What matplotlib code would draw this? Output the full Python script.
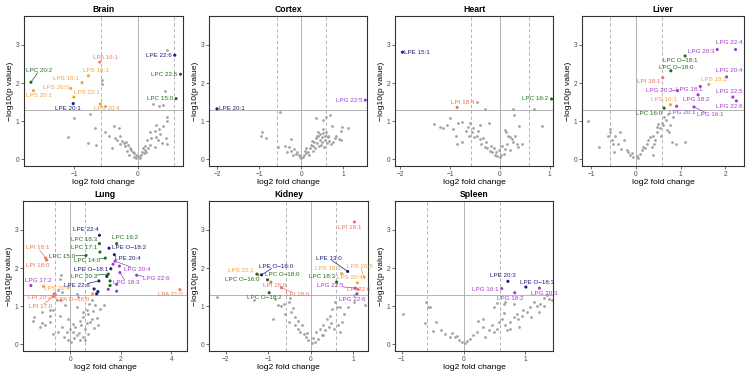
import numpy as np
import matplotlib
matplotlib.use("Agg")
import matplotlib.pyplot as plt

plt.rcParams['font.family'] = ['Liberation Sans', 'DejaVu Sans']

# ---------------- DATA ----------------
panels = ["Brain", "Cortex", "Heart", "Liver", "Lung", "Kidney", "Spleen"]

brain_gray_x = [0.47,-0.56,-0.56,0.43,0.34,0.40,0.25,-0.75,-1.01,-0.51,-0.37,-0.68,-0.51,-1.11,-0.79,-0.66,-0.30,-0.28,0.47,0.47,0.29,0.34,0.40,0.27,0.19,0.29,0.45,0.32,0.47,0.27,0.15,0.11,-0.35,-0.32,-0.25,-0.22,-0.18,-0.28,-0.20,-0.15,-0.12,-0.10,-0.08,-0.05,-0.03,0.00,0.02,0.05,0.07,0.10,0.13,0.08,-0.06,-0.02,0.04,-0.13,-0.17,0.16,0.20,0.12,-0.40,-0.45,0.35,0.22,0.38]
brain_gray_y = [2.88,2.09,1.98,1.79,1.40,1.43,1.46,1.19,1.07,1.39,0.86,0.82,0.71,0.58,0.42,0.38,0.82,0.60,1.10,1.00,0.89,0.80,0.86,0.75,0.71,0.58,0.56,0.49,0.39,0.32,0.51,0.23,0.55,0.50,0.48,0.42,0.45,0.40,0.35,0.38,0.30,0.25,0.20,0.15,0.10,0.08,0.05,0.12,0.18,0.15,0.20,0.28,0.06,0.03,0.02,0.12,0.22,0.28,0.38,0.35,0.28,0.60,0.65,0.55,0.42]
brain_hl_names = ["LPC 20:2","LPS 20:1","LPS 20:0","LPS 18:1","LPS 16:1","LPA 16:1","LPS 22:1","LPE 20:1","LPS 20:4","LPE 22:6","LPC 22:6","LPC 15:0"]
brain_hl_x = [-1.69,-1.65,-1.06,-0.88,-0.78,-0.60,-1.01,-1.02,-0.59,0.59,0.68,0.61]
brain_hl_y = [2.02,1.80,1.86,2.01,2.19,2.55,1.63,1.46,1.45,2.73,2.23,1.59]

cortex_gray_x = [-0.51,-0.94,-0.96,-0.84,-0.55,-0.40,-0.26,-0.29,-0.25,-0.17,-0.13,-0.07,-0.03,0.00,0.03,0.06,0.10,0.15,0.12,0.20,0.22,0.28,0.30,0.25,0.35,0.58,0.67,0.52,0.72,0.52,0.51,0.96,0.94,1.11,0.90,0.93,0.79,0.64,0.70,0.35,0.40,0.45,0.38,0.42,0.48,0.55,0.60,0.33,0.45,0.58,0.62,0.40,0.47,0.53,0.66,0.75,0.82,0.18,-0.10,-0.20,-0.35,0.08,0.27,0.36,0.50,0.57]
cortex_gray_y = [1.23,0.71,0.60,0.56,0.32,0.34,0.53,0.32,0.21,0.27,0.14,0.10,0.05,0.02,0.06,0.10,0.15,0.20,0.28,0.30,0.38,0.35,0.45,0.48,1.09,1.11,1.16,1.04,0.86,0.80,0.68,0.84,0.75,0.81,0.54,0.51,0.55,0.58,0.40,0.55,0.60,0.50,0.42,0.35,0.45,0.50,0.42,0.30,0.65,0.70,0.62,0.72,0.38,0.33,0.48,0.45,0.62,0.12,0.18,0.12,0.20,0.22,0.22,0.62,0.58,0.60]
cortex_hl_names = ["LPE 20:1","LPG 22:5"]
cortex_hl_x = [-2.01,1.52]
cortex_hl_y = [1.32,1.55]

heart_gray_x = [-0.46,-0.30,0.27,0.28,0.68,0.85,-1.00,0.39,-1.32,-1.21,-1.15,-1.07,-0.85,-0.77,-0.60,-0.40,-0.21,-0.89,-0.86,-0.76,-0.69,-0.57,-0.52,-0.62,-0.43,-0.40,-0.37,-0.30,-0.25,-0.20,-0.15,-0.10,-0.05,0.00,0.03,-0.08,-0.12,-0.18,-0.28,-0.33,-0.45,-0.55,-0.65,-0.95,0.10,0.13,0.17,0.20,0.25,0.05,0.10,0.20,0.27,0.34,0.44,0.37,0.09,-0.02,0.15,0.30]
heart_gray_y = [1.51,1.33,1.31,1.17,1.31,0.86,1.08,0.86,0.93,0.84,0.82,0.91,0.95,0.97,0.96,0.90,0.96,0.62,0.39,0.45,0.75,0.71,0.58,0.60,0.75,0.54,0.40,0.32,0.28,0.22,0.18,0.12,0.08,0.05,0.10,0.20,0.30,0.35,0.45,0.55,0.62,0.82,0.85,0.78,0.77,0.71,0.62,0.58,0.52,0.35,0.27,0.23,0.45,0.40,0.40,0.32,0.14,0.25,0.40,0.60]
heart_hl_names = ["LPE 15:1","LPI 18:4","LPC 16:2"]
heart_hl_x = [-1.96,-0.86,1.04]
heart_hl_y = [2.81,1.36,1.58]

liver_gray_x = [-1.07,-0.58,-0.58,-0.63,-0.47,-0.36,-0.54,-0.51,-0.40,-0.28,-0.34,-0.82,-0.49,-0.21,-0.13,-0.06,0.03,0.09,0.13,0.16,0.24,0.28,0.31,0.39,0.43,0.35,0.46,0.50,0.54,0.56,0.61,0.67,0.69,0.75,0.80,0.90,1.10,0.63,0.82,0.76,0.37,0.72,-0.10,0.05,0.20,-0.17,0.40,0.48,0.58]
liver_gray_y = [1.00,0.80,0.72,0.62,0.62,0.71,0.49,0.39,0.40,0.49,0.27,0.32,0.18,0.23,0.10,0.05,0.07,0.14,0.23,0.32,0.40,0.49,0.58,0.62,0.49,0.32,0.84,0.93,0.82,0.62,0.89,1.02,0.77,0.71,0.45,0.40,0.46,1.11,1.11,0.91,0.10,1.19,0.15,0.03,0.30,0.18,0.40,0.72,0.95]
liver_hl_names = ["LPG 22:4","LPG 20:3","LPC O\u221218:1","LPC O\u221218:0","LPG 20:4","LPI 18:1","LPS 18:2","LPG 20:2","LPG 18:1","LPG 22:5","LPG 18:2","LPS 16:1","LPG 22:6","LPC 16:0","LPG 20:1","LPG 16:1"]
liver_hl_x = [2.23,1.82,1.10,0.78,2.03,0.60,1.63,0.93,1.44,2.17,1.39,0.77,2.25,0.63,0.91,1.30]
liver_hl_y = [2.88,2.88,2.71,2.32,2.16,2.14,1.96,1.80,1.91,1.63,1.69,1.43,1.53,1.34,1.39,1.37]

lung_gray_x = [-0.36,-0.40,-0.59,-0.66,0.26,0.30,-0.33,-0.20,0.26,0.68,0.53,0.71,0.92,0.39,0.79,1.05,1.09,0.59,0.53,0.26,0.13,-0.13,-0.33,-0.46,-0.66,-0.79,-0.99,-1.45,-1.09,-1.41,-1.12,-0.79,-0.39,-0.07,0.10,0.39,0.59,0.72,0.99,1.36,1.18,-0.53,-0.46,-0.07,0.00,0.20,0.45,0.35,0.15,0.05,-0.10,-0.25,0.65,0.85,0.95,0.50,-0.80,-1.20,0.75,0.85]
lung_gray_y = [1.82,1.72,1.32,0.91,1.32,1.23,1.38,1.04,0.97,0.91,0.71,0.80,0.87,0.62,0.58,0.68,0.49,0.39,0.18,0.23,0.33,0.32,0.45,0.32,0.27,0.58,0.50,0.60,0.56,0.71,0.84,0.91,0.75,0.67,0.54,0.10,0.10,0.27,1.02,1.02,0.93,1.15,1.41,1.54,0.40,0.45,0.50,0.30,0.15,0.05,0.10,0.20,0.55,0.65,0.42,0.85,0.75,0.45,1.05,1.15]
lung_hl_names = ["LPE 22:4","LPC 18:3","LPC 16:2","LPE O\u221218:2","LPC 17:1","LPI 18:1","LPC 15:0","LPC 14:0","LPE 20:4","LPI 18:0","LPE O\u221218:1","LPG 20:4","LPG 22:6","LPC 20:3","LPG 18:3","LPG 17:2","LPE 22:6","LPS 20:4","LPA 21:0","LPI 20:2","LPA O\u221216:0","LPI 17:0",
                 "LPC 18:1","LPC 20:1","LPG 16:0","LPG 18:2","LPS 18:0","LPE 18:0","LPE 18:1","LPG 20:3","LPG 22:5","LPG 16:1","LPE 16:0","LPE 20:3"]
lung_hl_x = [1.16,1.16,1.84,1.54,1.18,-0.96,0.63,1.39,1.75,-0.93,1.61,1.78,2.63,1.51,1.97,-1.55,1.14,-1.05,4.34,-0.63,-0.36,-0.66,
             1.58,1.58,1.51,1.84,0.89,1.05,1.10,1.84,1.70,1.95,0.95,1.45]
lung_hl_y = [2.86,2.64,2.64,2.52,2.42,2.26,2.33,2.26,2.35,2.21,1.98,2.18,1.81,1.84,1.88,1.54,1.66,1.52,1.43,1.32,1.15,1.25,
             1.66,1.54,1.44,1.39,1.32,1.32,1.38,1.57,2.10,2.05,1.45,1.78]

kidney_gray_x = [-2.22,-1.35,-0.84,-0.78,-0.88,-0.70,-0.62,-0.50,-0.51,-0.46,-0.37,-0.51,-0.37,-0.29,-0.21,-0.25,-0.17,-0.12,-0.06,0.02,0.10,0.18,0.26,0.22,0.30,0.34,0.42,0.38,0.46,0.50,0.57,0.61,0.69,0.89,1.01,1.01,1.28,0.65,0.73,0.69,0.55,-0.30,-0.08,0.05,0.13,0.48,0.78,-0.60,-0.42,0.30]
kidney_gray_y = [1.23,1.15,1.19,1.02,0.67,1.00,1.05,1.22,1.10,0.84,0.71,0.58,0.50,0.62,0.50,0.32,0.27,0.18,0.10,0.04,0.05,0.14,0.23,0.40,0.49,0.36,0.45,0.67,0.75,0.93,1.11,0.97,0.97,0.97,1.28,1.11,1.04,0.49,0.58,0.32,0.40,0.40,0.30,0.15,0.32,0.55,0.80,0.80,0.95,0.25]
kidney_hl_names = ["LPI 16:1","LPE 13:0","LPS 20:5","LPS 18:2","LPS 20:4","LPC 18:3","LPG 22:5","LPI 22:6","LPG 22:6","LPS 22:1","LPE O\u221218:0","LPC O\u221216:0","LPC O\u221218:0","LPI 16:0","LPI 18:0","LPC O\u221218:2"]
kidney_hl_x = [1.03,0.87,1.26,0.73,1.10,0.61,1.05,1.11,1.09,-1.24,-1.16,-1.27,-1.02,-0.94,-0.69,-0.98]
kidney_hl_y = [3.21,1.91,1.76,1.85,1.61,1.63,1.47,1.44,1.32,1.82,1.82,1.84,1.69,1.63,1.48,1.35]

spleen_gray_x = [-0.98,-0.61,-0.55,-0.58,-0.62,-0.44,-0.50,-0.37,-0.30,-0.22,-0.14,-0.08,-0.03,0.05,0.11,0.16,0.22,0.24,0.31,0.32,0.41,0.46,0.49,0.54,0.57,0.62,0.65,0.68,0.70,0.76,0.81,0.86,0.89,0.95,0.97,1.03,1.08,1.14,1.19,1.22,1.24,1.30,1.38,1.43,0.65,0.68,0.81,0.49,0.55,-0.18,-0.10,0.02,0.35,0.90,1.10,0.75,1.35,1.30]
spleen_gray_y = [0.79,1.11,0.98,0.97,0.56,0.58,0.34,0.38,0.27,0.18,0.18,0.10,0.05,0.07,0.14,0.25,0.32,0.62,0.67,0.45,0.36,0.49,0.32,0.40,0.58,0.67,0.82,0.51,0.36,0.58,0.71,0.80,0.66,0.75,0.91,0.84,0.97,1.11,1.00,0.84,1.06,1.00,1.19,1.15,1.06,1.10,1.06,0.97,1.09,0.28,0.22,0.02,0.20,0.45,0.70,0.40,1.28,1.20]
spleen_hl_names = ["LPE 20:3","LPE O\u221218:3","LPG 16:1","LPG 20:3","LPG 18:2"]
spleen_hl_x = [0.72,1.01,0.62,1.23,0.83]
spleen_hl_y = [1.65,1.50,1.46,1.47,1.35]

# labelled subset (names) per panel
labelled = {
    "Lung": lung_hl_names[:22],
}

# x ticks per panel
x_ticks = {
    "Brain": [-1, 0], "Cortex": [-2, -1, 0, 1], "Heart": [-2, -1, 0, 1],
    "Liver": [-1, 0, 1, 2], "Lung": [0, 2, 4], "Kidney": [-2, -1, 0, 1],
    "Spleen": [-1, 0, 1],
}
y_ticks = [0, 1, 2, 3]
p_cut = 1.3
fc_cut = 0.585

# ---------------- LAYOUT / STYLE ----------------
W, H = 755, 381
axes_px = {  # left, top, right, bottom in pixels
    "Brain": (24, 16, 183, 166), "Cortex": (209, 16, 367, 166),
    "Heart": (395, 16, 553, 166), "Liver": (582, 16, 744, 166),
    "Lung": (23, 201, 187, 351), "Kidney": (209, 201, 368, 351),
    "Spleen": (395, 201, 553, 351),
}
xlims = {
    "Brain": (-1.80, 0.72), "Cortex": (-2.20, 1.56), "Heart": (-2.11, 1.07),
    "Liver": (-1.21, 2.42), "Lung": (-1.86, 4.62), "Kidney": (-2.40, 1.35),
    "Spleen": (-1.11, 1.45),
}
ylim = (-0.18, 3.76)

label_pos = {
    "Brain": [(-1.56,2.33),(-1.57,1.66),(-1.30,1.88),(-1.13,2.11),(-0.66,2.32),(-0.51,2.68),(-0.81,1.75),(-1.11,1.33),(-0.49,1.32),(0.33,2.73),(0.42,2.23),(0.35,1.59)],
    "Cortex": [(-1.65,1.32),(1.13,1.55)],
    "Heart": [(-1.66,2.81),(-0.74,1.50),(0.71,1.58)],
    "Liver": [(2.08,3.06),(1.46,2.83),(1.00,2.59),(0.90,2.41),(2.08,2.32),(0.29,2.05),(1.74,2.09),(0.51,1.79),(1.19,1.82),(2.08,1.78),(1.34,1.57),(0.63,1.56),(2.08,1.38),(0.30,1.21),(1.03,1.23),(1.67,1.16)],
    "Lung": [(0.61,3.00),(0.55,2.76),(2.17,2.79),(2.33,2.53),(0.55,2.53),(-1.28,2.53),(-0.30,2.31),(0.67,2.20),(2.30,2.26),(-1.28,2.07),(0.82,1.96),(2.66,1.96),(3.42,1.72),(0.54,1.79),(2.20,1.63),(-1.25,1.68),(0.26,1.53),(-0.51,1.46),(3.97,1.31),(-1.21,1.23),(0.11,1.17),(-1.16,0.99)],
    "Kidney": [(0.91,3.06),(0.42,2.26),(1.17,2.04),(0.41,1.99),(0.93,1.75),(0.26,1.78),(0.46,1.54),(1.13,1.43),(0.98,1.17),(-1.65,1.94),(-0.83,2.05),(-1.61,1.69),(-0.67,1.82),(-0.85,1.54),(-0.31,1.30),(-1.10,1.22)],
    "Spleen": [(0.64,1.81),(1.19,1.61),(0.35,1.43),(1.31,1.32),(0.75,1.21)],
}

class_colors = {
    "LPC": "#1E6B1E", "LPE": "#1C1C78", "LPG": "#A03CCB",
    "LPS": "#F2A23A", "LPI": "#E8735E", "LPA": "#EE7F55",
}
gray = "#A3A3A3"
ref_col = "#A8A8A8"

data = {
    "Brain": (brain_gray_x, brain_gray_y, brain_hl_names, brain_hl_x, brain_hl_y),
    "Cortex": (cortex_gray_x, cortex_gray_y, cortex_hl_names, cortex_hl_x, cortex_hl_y),
    "Heart": (heart_gray_x, heart_gray_y, heart_hl_names, heart_hl_x, heart_hl_y),
    "Liver": (liver_gray_x, liver_gray_y, liver_hl_names, liver_hl_x, liver_hl_y),
    "Lung": (lung_gray_x, lung_gray_y, lung_hl_names, lung_hl_x, lung_hl_y),
    "Kidney": (kidney_gray_x, kidney_gray_y, kidney_hl_names, kidney_hl_x, kidney_hl_y),
    "Spleen": (spleen_gray_x, spleen_gray_y, spleen_hl_names, spleen_hl_x, spleen_hl_y),
}

fig = plt.figure(figsize=(W / 100, H / 100), dpi=100)
fig.patch.set_facecolor("white")

texts = []
for name in panels:
    l, t, r, b = axes_px[name]
    ax = fig.add_axes([l / W, 1 - b / H, (r - l) / W, (b - t) / H])
    gx, gy, hn, hx, hy = data[name]
    ax.axhline(p_cut, color=ref_col, lw=0.6, zorder=1)
    ax.axvline(0, color=ref_col, lw=0.6, zorder=1)
    ax.axvline(-fc_cut, color=ref_col, lw=0.6, ls=(0, (4, 3)), zorder=1)
    ax.axvline(fc_cut, color=ref_col, lw=0.6, ls=(0, (4, 3)), zorder=1)
    ax.scatter(gx, gy, s=4, color=gray, lw=0, zorder=2)
    cols = [class_colors[n.split()[0]] for n in hn]
    ax.scatter(hx, hy, s=5, color=cols, lw=0, zorder=3)
    ax.set_xlim(*xlims[name])
    ax.set_ylim(*ylim)
    ax.set_xticks(x_ticks[name])
    ax.set_yticks(y_ticks)
    ax.tick_params(labelsize=4.8, labelcolor="#4D4D4D", length=2, width=0.5,
                   color="#333333", pad=1.5)
    for sp in ax.spines.values():
        sp.set_color("#333333")
        sp.set_linewidth(0.8)
    ax.set_title(name, fontsize=6.2, fontweight="bold", pad=3)
    ax.set_xlabel("log2 fold change", fontsize=6.1, labelpad=1)
    ax.set_ylabel("\u2212log10(p value)", fontsize=6.1, labelpad=1)
    nlab = len(label_pos[name])
    for i in range(nlab):
        lx, ly = label_pos[name][i]
        c = cols[i]
        txt = ax.text(lx, ly, hn[i], fontsize=4.5, color=c, ha="center",
                      va="center", zorder=4)
        texts.append((ax, txt, hx[i], hy[i], c))

fig.canvas.draw()
renderer = fig.canvas.get_renderer()
for ax, txt, px, py, c in texts:
    bb = txt.get_window_extent(renderer)
    P = ax.transData.transform((px, py))
    cx, cy = (bb.x0 + bb.x1) / 2, (bb.y0 + bb.y1) / 2
    dx = max(bb.x0 - P[0], 0, P[0] - bb.x1)
    dy = max(bb.y0 - P[1], 0, P[1] - bb.y1)
    if np.hypot(dx, dy) > 5:
        vx, vy = P[0] - cx, P[1] - cy
        hw, hh = (bb.x1 - bb.x0) / 2, (bb.y1 - bb.y0) / 2
        s = min(hw / abs(vx) if vx else np.inf, hh / abs(vy) if vy else np.inf)
        sx, sy = cx + vx * s, cy + vy * s
        inv = ax.transData.inverted()
        a = inv.transform((sx, sy))
        e = inv.transform((P[0] - vx / np.hypot(vx, vy) * 1.5, P[1] - vy / np.hypot(vx, vy) * 1.5))
        ax.plot([a[0], e[0]], [a[1], e[1]], color=c, lw=0.5, zorder=3)

fig.savefig("out.png", dpi=100)
